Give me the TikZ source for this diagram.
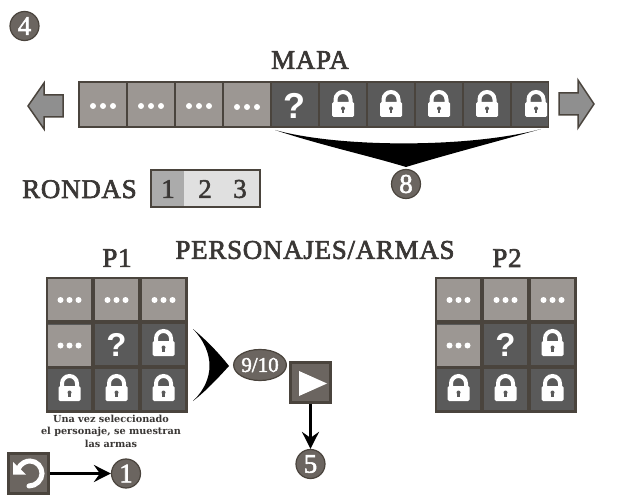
\documentclass[tikz,border=0pt]{standalone}
\usepackage{fontspec}
\setmainfont{Liberation Serif}
\newfontfamily\sansb{Liberation Sans}[BoldFont=* Bold]
\newfontfamily\smallserif{DejaVu Serif}
\newfontfamily\headfont{Liberation Serif}[FakeBold=2.4,LetterSpace=2.6]
\newfontfamily\numfont{Liberation Serif}[FakeBold=2]
\usetikzlibrary{arrows.meta,shapes.geometric}
\definecolor{edgec}{HTML}{4A443D}
\definecolor{lightc}{HTML}{9C9793}
\definecolor{darkc}{HTML}{5A5A5A}
\definecolor{badgec}{HTML}{6B6560}
\definecolor{greyc}{HTML}{8F8F8F}
\definecolor{textc}{HTML}{3A3735}
\tikzset{
  x=1pt,y=-1pt,
  cellbox/.style={draw=none,inner sep=0,outer sep=0,anchor=center},
  lightcell/.style={cellbox,fill=lightc},
  darkcell/.style={cellbox,fill=darkc},
  backing/.style={fill=edgec,draw=none},
  badge/.style={circle,draw=edgec,fill=badgec,line width=1.2pt,minimum size=29pt,inner sep=0,text=white,font=\numfont\fontsize{27}{27}\selectfont},
  title/.style={text=textc,inner sep=0,font=\headfont\fontsize{27}{27}\selectfont},
  btn/.style={rectangle,draw=edgec,fill=badgec,line width=3pt,minimum size=40pt,inner sep=0},
  conn/.style={line width=3pt,black,-{Stealth[length=17pt,width=17pt,inset=6pt]}},
  sidearrow/.style={draw=edgec,fill=greyc,line width=1.5pt,line join=miter},
  wedge/.style={fill=black,draw=none},
  dots/.pic={\foreach \d in {-#1,0,#1}{\fill[white] (\d,0) circle (3);}},
  lockicon/.pic={
    \draw[white,line width=4pt] (-7.5,-1) -- (-7.5,-5.5) arc[start angle=180,end angle=360,radius=7.5] -- (7.5,-1);
    \fill[white,rounded corners=1.5pt] (-11,-3) rectangle (11,12);
    \fill[darkc] (0,3.5) circle (2);
    \fill[darkc] (-1.2,3.5) rectangle (1.2,8);
  },
}
\newcommand{\qmark}[1]{\sansb\bfseries\fontsize{#1}{#1}\selectfont ?}
\begin{document}
\begin{tikzpicture}
\useasboundingbox[fill=white] (0,0) rectangle (630,500);

% badge 4
\node[badge] (b4) at (24.5,26) {4};

% map
\node[title] (mapa) at (310,60) {MAPA};
\fill[backing] (78,81) rectangle (549,128);
\foreach \i/\x in {1/103,2/151,3/199,4/247}
  \node[lightcell,minimum width=46pt,minimum height=43pt] (m\i) at (\x,105) {};
\foreach \x/\yy in {103/106,151/106,199/106,247/107}
  \pic at (\x,\yy) {dots=10};
\node[darkcell,minimum width=46pt,minimum height=43pt] (m5) at (295,105) {};
\node[text=white,inner sep=0] (q1) at (294,106) {\qmark{36}};
\foreach \i/\x in {6/343,7/391,8/439,9/487}{
  \node[darkcell,minimum width=46pt,minimum height=43pt] (m\i) at (\x,105) {};
  \pic at (\x,105) {lockicon};
}
\node[darkcell,minimum width=35.5pt,minimum height=43pt] (m10) at (529.75,105) {};
\pic at (536,105) {lockicon};

% side arrows
\draw[sidearrow] (28,106) -- (44,83) -- (44,95) -- (63,95) -- (63,117) -- (44,117) -- (44,129) -- cycle;
\draw[sidearrow] (559,93) -- (578,93) -- (578,80) -- (594,104) -- (578,128) -- (578,115) -- (559,115) -- cycle;

% wedge to 8
\node[badge] (b8) at (406,184) {8};
\coordinate (wl) at (275,130);
\coordinate (wr) at (541,129);
\coordinate (wt) at (406,167);
\fill[wedge] (wl) .. controls (320,145) and (370,156) .. (wt) .. controls (442,156) and (495,142) .. (wr) .. controls (470,148) and (340,148) .. (wl);

% rondas
\node[title,anchor=base west] (rondas) at (22,198) {RONDAS};
\fill[backing] (150,169) rectangle (261,208);
\fill[fill=black!33] (152,171) rectangle (184,206);
\fill[fill=black!12] (184,171) rectangle (259,206);
\node[text=textc,inner sep=0,font=\numfont\fontsize{27}{27}\selectfont] (r1) at (168,189) {1};
\node[text=textc,inner sep=0,font=\numfont\fontsize{27}{27}\selectfont] (r2) at (205,189) {2};
\node[text=textc,inner sep=0,font=\numfont\fontsize{27}{27}\selectfont] (r3) at (240,189) {3};

% headings
\node[title] (pa) at (315,250) {PERSONAJES/ARMAS};
\node[title] (p1) at (117,258) {P1};
\node[title] (p2) at (507,258) {P2};

% grids
\foreach \off/\g in {0/a,389/b}{
  \fill[backing] (46+\off,277) rectangle (188+\off,413);
  \foreach \c/\x in {1/69.5,2/116.5,3/163.5}
    \foreach \r/\yy in {1/299.5,2/344.5,3/389.5}{
      \node[darkcell,minimum width=43pt,minimum height=41pt] (\g\c\r) at (\x+\off,\yy) {};
    }
  \foreach \x/\yy in {69.5/299.5,116.5/299.5,163.5/299.5,69.5/345}{
    \node[lightcell,minimum width=43pt,minimum height=41pt] at (\x+\off,\yy) {};
    \pic at (\x+\off,\yy+.5) {dots=9};
  }
  \node[text=white,inner sep=0] at (116.5+\off,345) {\qmark{33}};
  \foreach \x/\yy in {163.5/344,69.5/389,116.5/389,163.5/389}
    \pic at (\x+\off,\yy) {lockicon};
}

% note
\node[text=textc,align=center,inner sep=0,font=\smallserif\bfseries\fontsize{9.7}{12.5}\selectfont] (note) at (111,431) {Una vez seleccionado\\el personaje, se muestran\\las armas};

% wedge to 9/10
\node[ellipse,draw=edgec,fill=badgec,line width=1.2pt,minimum width=52pt,minimum height=31pt,inner sep=0,text=white,font=\numfont\fontsize{21}{21}\selectfont] (b9) at (260,365) {9/10};
\coordinate (st) at (193,329);
\coordinate (sb) at (193,401);
\coordinate (sx) at (229,366);
\fill[wedge] (st) .. controls (206,340) and (218,352) .. (sx) .. controls (218,378) and (206,391) .. (sb) .. controls (215,380) and (215,352) .. (st);

% play
\node[btn] (play) at (310.5,382) {};
\fill[white] (299,371) -- (327,383.5) -- (299,396) -- cycle;
\node[badge] (b5) at (310.5,464) {5};
\draw[conn] (play) -- (b5);

% undo
\node[btn] (undo) at (28.5,473.5) {};
\draw[white,line width=5pt,line cap=round] (18,469) .. controls (21,463) and (26,461) .. (30,461) .. controls (37,461) and (42,467) .. (42,473.5) .. controls (42,480) and (36,486) .. (29,486);
\fill[white] (13,462) -- (26,474.5) -- (13,474.5) -- cycle;
\node[badge] (b1) at (126,473.5) {1};
\draw[conn] (undo) -- (b1);
\end{tikzpicture}
\end{document}
